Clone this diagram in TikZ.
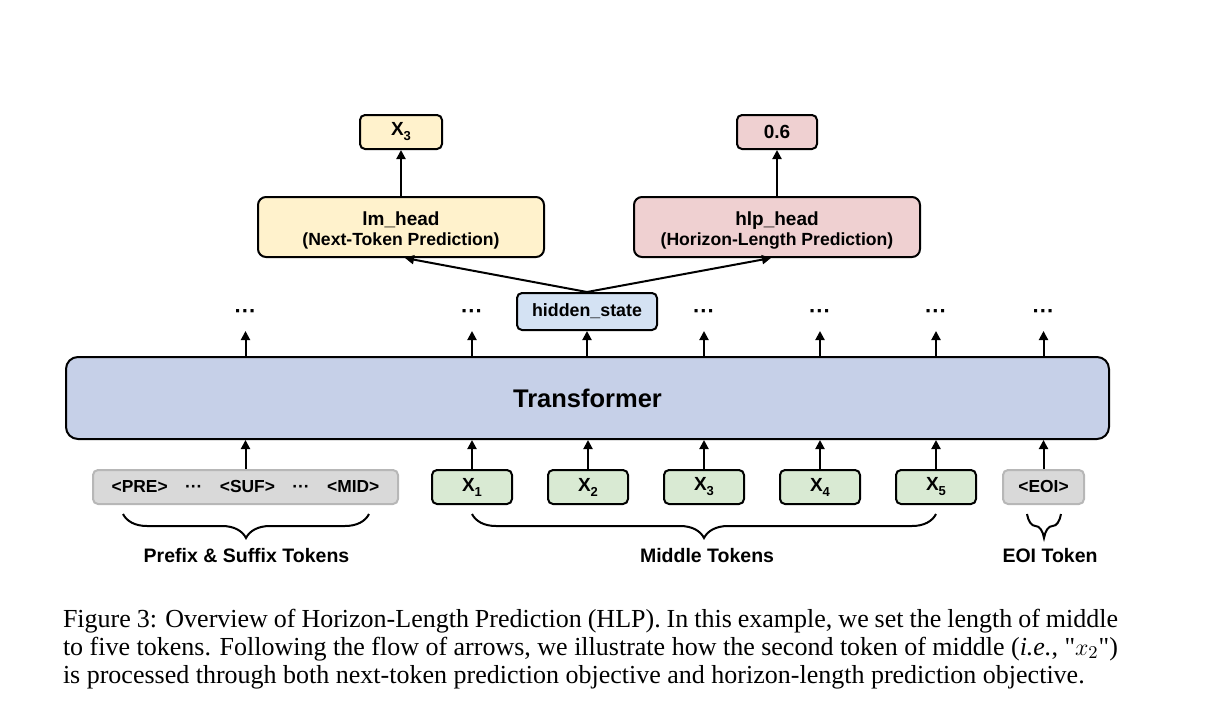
\documentclass[tikz,border=0pt]{standalone}
\usepackage{fontspec}
\setmainfont{Liberation Sans}
\newfontfamily\capfont{Liberation Serif}
\usepackage{tikz}
\usetikzlibrary{positioning}
\usetikzlibrary{arrows.meta}
\usetikzlibrary{decorations.pathreplacing}

\definecolor{headyellow}{HTML}{FFF2CC}
\definecolor{headred}{HTML}{EFD0D1}
\definecolor{tokgreen}{HTML}{D9EAD3}
\definecolor{tokgray}{HTML}{D9D9D9}
\definecolor{graybord}{HTML}{B7B7B7}
\definecolor{hiddenblue}{HTML}{D4E2F3}
\definecolor{transblue}{HTML}{C6D0E8}

\newcommand{\tokx}[1]{X\raisebox{-2.5pt}{\fontsize{6.5pt}{6.5pt}\selectfont #1}}
\newcommand{\dotrow}{\raisebox{-3.6pt}[0pt][0pt]{···}}

\tikzset{
  box/.style={draw, rounded corners=2.5pt, inner sep=0pt, minimum height=17pt,
    font=\bfseries\fontsize{9.5pt}{11pt}\selectfont},
  head/.style={box, rounded corners=4pt, minimum width=143pt, minimum height=30pt, align=center},
  tok/.style={box, fill=tokgreen, minimum width=40pt},
  spec/.style={box, draw=graybord, fill=tokgray, font=\bfseries\fontsize{8.7pt}{10pt}\selectfont},
  dotsnode/.style={inner sep=0pt, minimum height=18.5pt, font=\bfseries\fontsize{11pt}{11pt}\selectfont},
  lbl/.style={font=\bfseries\fontsize{9.75pt}{11pt}\selectfont},
  brc/.style={decorate, decoration={brace, mirror, amplitude=12pt}}
}

\begin{document}
\begin{tikzpicture}
        [x=0.5pt, y=0.5pt, line width=1pt, >={Triangle[length=4.5pt,width=4.5pt]}]
      \useasboundingbox (0,0) rectangle (1214,720);

      \node[box, fill=headyellow, minimum width=41pt] (outx) at (401,588) {\tokx{3}};
      \node[box, fill=headred, minimum width=40pt]    (outh) at (777,588) {0.6};
      \node[head, fill=headyellow] (lmhead)  at (401,493) {\rule{0pt}{10pt}lm\_head\\[-1pt]{\fontsize{8.8pt}{10pt}\selectfont (Next-Token Prediction)}};
      \node[head, fill=headred]    (hlphead) at (777,493) {\rule{0pt}{10pt}hlp\_head\\[-1pt]{\fontsize{8.8pt}{10pt}\selectfont (Horizon-Length Prediction)}};
      \node[box, fill=hiddenblue, minimum width=70pt, minimum height=18.5pt,
            font=\bfseries\fontsize{8.9pt}{10pt}\selectfont] (hidden) at (587,408.5) {hidden\_state};

      \node[box, fill=transblue, rounded corners=6pt, minimum width=521.5pt, minimum height=41pt,
            font=\bfseries\fontsize{12.75pt}{14pt}\selectfont] (trans) at (587.5,322) {Transformer};

      \node[spec, minimum width=152.5pt] (pre) at (245.5,233) {<PRE>\quad···\quad<SUF>\quad···\quad<MID>};
      \node[tok] (x1) at (472,233) {\tokx{1}};
      \node[tok] (x2) [right=17pt of x1] {\tokx{2}};
      \node[tok] (x3) [right=17pt of x2] {\tokx{3}};
      \node[tok] (x4) [right=17pt of x3] {\tokx{4}};
      \node[tok] (x5) [right=17pt of x4] {\tokx{5}};
      \node[spec, minimum width=40.5pt] (eoi) at (1043.5,233) {<EOI>};

      \node[dotsnode] (d1) at (pre |- hidden) {\dotrow};
      \node[dotsnode] (d2) at (x1 |- hidden) {\dotrow};
      \node[dotsnode] (d4) at (x3 |- hidden) {\dotrow};
      \node[dotsnode] (d5) at (x4 |- hidden) {\dotrow};
      \node[dotsnode] (d6) at (x5 |- hidden) {\dotrow};
      \node[dotsnode] (d7) at (eoi |- hidden) {\dotrow};

      \foreach \n in {pre,x1,x2,x3,x4,x5,eoi}
        \draw[->] (\n) -- (\n |- trans.south);
      \foreach \d in {d1,d2,hidden,d4,d5,d6,d7}
        \draw[->] (trans.north -| \d) -- (\d.south);

      \draw[->] (hidden.north) -- ([xshift=2pt]lmhead.south);
      \draw[->] (hidden.north) -- ([xshift=-3pt]hlphead.south);
      \draw[->] (lmhead) -- (outx);
      \draw[->] (hlphead) -- (outh);

      \coordinate (pb1) at (123,206);
      \coordinate (pb2) at (369,206);
      \coordinate (mb1) at (x1 |- pb1);
      \coordinate (mb2) at (x5 |- pb1);
      \coordinate (eb1) at (1027,206);
      \coordinate (eb2) at (1061,206);
      \draw[brc] (pb1) -- (pb2);
      \draw[brc] (mb1) -- (mb2);
      \draw[brc] (eb1) -- (eb2);

      \node[lbl] (prelbl) at (246.5,164) {Prefix \& Suffix Tokens};
      \node[lbl] (midlbl) at (707,164) {Middle Tokens};
      \node[lbl] (eoilbl) at (1050,164) {EOI Token};

      \node[anchor=base west, text width=527.5pt, align=justify, inner sep=0pt,
            font=\capfont\fontsize{13pt}{14pt}\selectfont] (caption) at (62,93)
        {Figure 3: Overview of Horizon-Length Prediction (HLP). In this example, we set the length of middle\linebreak
         to five tokens. Following the flow of arrows, we illustrate how the second token of middle (\textit{i.e.}, "$x_2$")\linebreak
         is processed through both next-token prediction objective and horizon-length prediction objective.};
      \end{tikzpicture}
\end{document}
